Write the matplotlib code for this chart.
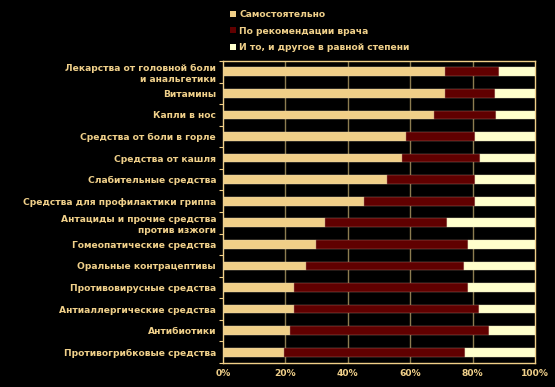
import matplotlib
matplotlib.use("Agg")
import matplotlib.pyplot as plt
from matplotlib.patches import Patch
import numpy as np

categories = [
    "Лекарства от головной боли\nи анальгетики",
    "Витамины",
    "Капли в нос",
    "Средства от боли в горле",
    "Средства от кашля",
    "Слабительные средства",
    "Средства для профилактики гриппа",
    "Антациды и прочие средства\nпротив изжоги",
    "Гомеопатические средства",
    "Оральные контрацептивы",
    "Противовирусные средства",
    "Антиаллергические средства",
    "Антибиотики",
    "Противогрибковые средства",
]
self_pct = [71.2, 71.2, 67.6, 58.8, 57.3, 52.6, 45.3, 32.7, 29.8, 26.5, 22.9, 22.6, 21.5, 19.4]
doctor_pct = [17.3, 16.1, 20.0, 22.0, 25.0, 28.2, 35.5, 39.0, 48.7, 50.6, 55.6, 59.5, 63.8, 58.3]
both_pct = [100 - a - b for a, b in zip(self_pct, doctor_pct)]
series_names = ["Самостоятельно", "По рекомендации врача", "И то, и другое в равной степени"]
xticks = [0, 20, 40, 60, 80, 100]
xtick_labels = ["0%", "20%", "40%", "60%", "80%", "100%"]

TAN = "#F0CF88"
RED = "#600000"
CREAM = "#FFFFCC"
TXT = "#F0D08A"

plt.rcParams['font.family'] = ['DejaVu Sans']
FS = 6.6
fig = plt.figure(figsize=(5.55, 3.87), dpi=100, facecolor="black")
ax = fig.add_axes([223 / 555, 1 - 363 / 387, 312 / 555, 302 / 387], facecolor="black")

y = np.arange(len(categories))
h = 0.4
ax.barh(y, self_pct, height=h, color=TAN, edgecolor="#E8D8B0", linewidth=0.3, zorder=3)
ax.barh(y, doctor_pct, left=self_pct, height=h, color=RED, edgecolor="#B08070", linewidth=0.3, zorder=3)
left2 = [a + b for a, b in zip(self_pct, doctor_pct)]
ax.barh(y, both_pct, left=left2, height=h, color=CREAM, edgecolor="#E8E0C0", linewidth=0.3, zorder=3)

ax.set_xlim(0, 100)
ax.set_ylim(len(categories) - 0.5, -0.5)
ax.set_xticks(xticks)
ax.set_xticklabels(xtick_labels, color=TXT, fontsize=FS, fontweight="bold")
ax.set_yticks(y)
ax.set_yticklabels(categories, color=TXT, fontsize=FS, fontweight="bold", linespacing=1.3)
ax.set_yticks(np.arange(len(categories) + 1) - 0.5, minor=True)
ax.tick_params(axis="y", which="major", length=0, pad=5)
ax.tick_params(axis="y", which="minor", length=3, color=TAN, width=0.8)
ax.tick_params(axis="x", length=0, pad=4)
for x in xticks[1:-1]:
    ax.axvline(x, color="#8C7C50", linewidth=1.0, zorder=1)
for s in ax.spines.values():
    s.set_color(TAN)
    s.set_linewidth(1.0)

handles = [Patch(facecolor=c, edgecolor="none") for c in (TAN, RED, CREAM)]
leg = fig.legend(handles, series_names, loc="upper left", bbox_to_anchor=(222 / 555, 1 - 2 / 387),
                 frameon=False, handlelength=0.6, handleheight=0.6, handletextpad=0.4,
                 labelspacing=0.8, prop={"size": FS, "weight": "bold"})
for t in leg.get_texts():
    t.set_color(TXT)

fig.savefig("out.png", dpi=100, facecolor="black")
